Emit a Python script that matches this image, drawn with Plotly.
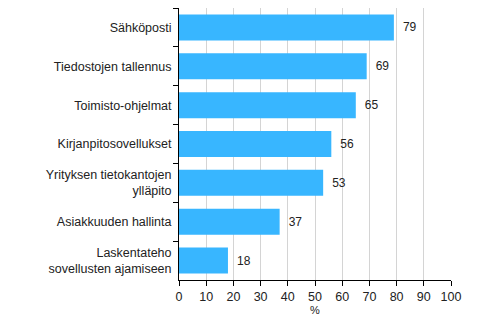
import plotly.graph_objects as go

categories = ["Sähköposti", "Tiedostojen tallennus", "Toimisto-ohjelmat",
              "Kirjanpitosovellukset", "Yrityksen tietokantojen<br>ylläpito",
              "Asiakkuuden hallinta", "Laskentateho<br>sovellusten ajamiseen"]
values = [79, 69, 65, 56, 53, 37, 18]
x_ticks = list(range(0, 101, 10))

fig = go.Figure(go.Bar(
    x=values, y=categories, orientation="h",
    marker=dict(color="#38B6FF", line=dict(width=0)),
    text=["\u2002" + str(v) for v in values], textposition="outside",
    textfont=dict(family="Liberation Sans, Arial", size=12, color="#222222"),
    cliponaxis=False,
))
fig.update_layout(
    width=491, height=322,
    margin=dict(l=179, r=40, t=8, b=39),
    paper_bgcolor="white", plot_bgcolor="white",
    bargap=0.33, showlegend=False,
    font=dict(family="Liberation Sans, Arial", size=12, color="#222222"),
)
fig.update_xaxes(
    range=[0, 100], tickvals=x_ticks, ticktext=[str(t) for t in x_ticks],
    showgrid=True, gridcolor="#d4d4d4", gridwidth=1,
    showline=True, linecolor="black", linewidth=1,
    ticks="outside", ticklen=5, tickcolor="black",
    title=dict(text="%", standoff=2, font=dict(size=11)),
    zeroline=False, tickfont=dict(size=12.5),
)
fig.update_yaxes(
    autorange="reversed", showline=True, linecolor="black", linewidth=1,
    ticks="outside", ticklen=5, tickcolor="black", tickson="boundaries",
    showgrid=False, ticklabelstandoff=4, tickfont=dict(size=12.5),
)
fig.write_html("out.html")
